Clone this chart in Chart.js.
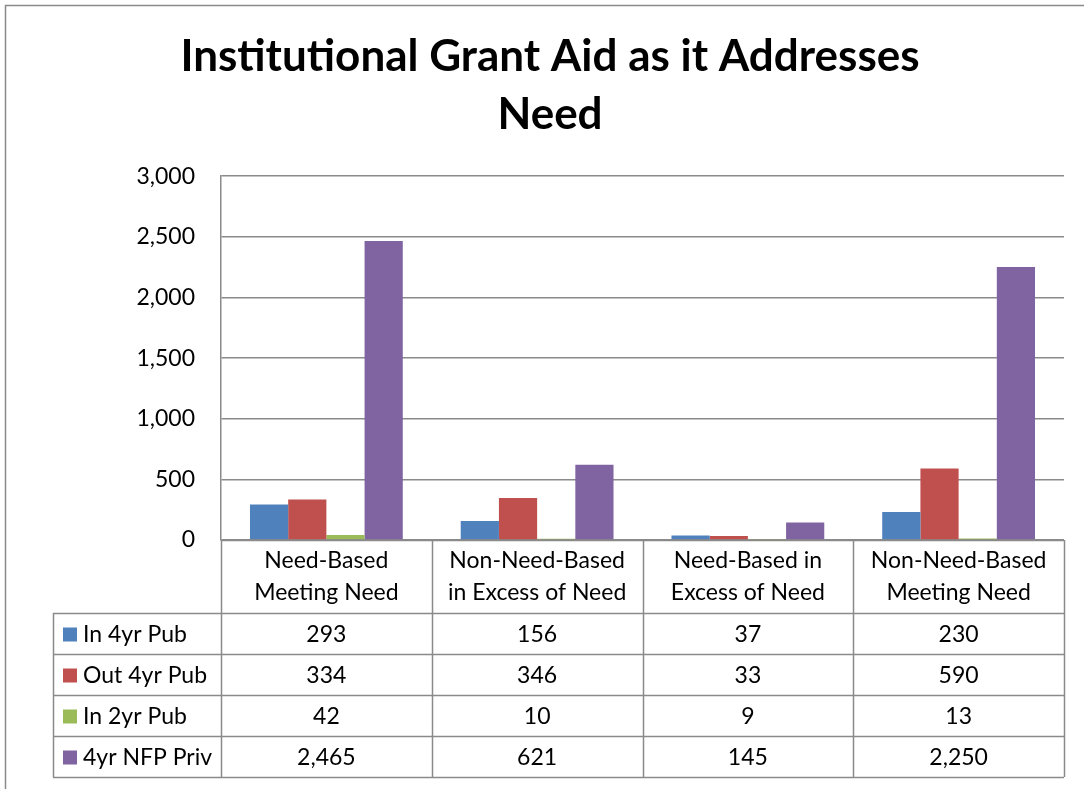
<!doctype html>
<html lang="en">
<head>
<meta charset="utf-8">
<title>Institutional Grant Aid as it Addresses Need</title>
<script src="https://cdn.jsdelivr.net/npm/chart.js"></script>
<style>
  html, body { margin: 0; padding: 0; background: #fff; }
</style>
</head>
<body>
<canvas id="grantChart" width="1084" height="789"></canvas>

<script>
// chart data
const categories = [
  ["Need-Based", "Meeting Need"],
  ["Non-Need-Based", "in Excess of Need"],
  ["Need-Based in", "Excess of Need"],
  ["Non-Need-Based", "Meeting Need"]
];
const seriesNames = ["In 4yr Pub", "Out 4yr Pub", "In 2yr Pub", "4yr NFP Priv"];
const in4yrPub   = [293, 156, 37, 230];
const out4yrPub  = [334, 346, 33, 590];
const in2yrPub   = [42, 10, 9, 13];
const nfpPriv4yr = [2465, 621, 145, 2250];
const yTickValues = [0, 500, 1000, 1500, 2000, 2500, 3000];

const seriesColors = ['#4F81BD', '#C0504D', '#9BBB59', '#8064A2'];
const seriesValues = [in4yrPub, out4yrPub, in2yrPub, nfpPriv4yr];
const FONT = "Lato, 'Open Sans', sans-serif";
const LINE = '#8a8a8a';
const PAD_LEFT = 36;

function fmt(v) { return v.toLocaleString('en-US'); }

// white background + outer frame (only top/left edge visible in the original)
const framePlugin = {
  id: 'frame',
  beforeDraw(chart) {
    const c = chart.ctx;
    c.save();
    c.fillStyle = '#fff';
    c.fillRect(0, 0, chart.width, chart.height);
    c.strokeStyle = LINE;
    c.lineWidth = 1.5;
    c.strokeRect(5.5, 5.5, chart.width + 20, chart.height + 20);
    c.restore();
  }
};

// data table under the plot, Excel style
const tablePlugin = {
  id: 'dataTable',
  afterDraw(chart) {
    const c = chart.ctx;
    const area = chart.chartArea;
    const x = chart.scales.x;
    const n = categories.length;
    const step = area.width / n;
    const headerH = 73, rowH = 41, tableLeft = 53;
    const top = area.bottom;
    const rowsTop = top + headerH;
    const bottom = rowsTop + rowH * seriesNames.length;

    c.save();
    c.strokeStyle = LINE;
    c.lineWidth = 1.5;
    c.beginPath();
    // vertical column lines
    for (let i = 0; i <= n; i++) {
      const px = Math.round(area.left + i * step) + 0.5;
      c.moveTo(px, top);
      c.lineTo(px, bottom);
    }
    c.moveTo(tableLeft + 0.5, rowsTop);
    c.lineTo(tableLeft + 0.5, bottom);
    // horizontal lines
    c.moveTo(area.left, top + 0.5);
    c.lineTo(area.right, top + 0.5);
    for (let r = 0; r <= seriesNames.length; r++) {
      const py = Math.round(rowsTop + r * rowH) + 0.5;
      c.moveTo(tableLeft, py);
      c.lineTo(area.right, py);
    }
    c.stroke();

    c.fillStyle = '#000';
    c.font = '23px ' + FONT;
    c.textAlign = 'center';
    c.textBaseline = 'middle';
    // category headers
    categories.forEach((lines, i) => {
      const cx = x.getPixelForValue(i);
      lines.forEach((t, k) => c.fillText(t, cx, top + 21 + k * 32));
    });
    // series rows
    seriesNames.forEach((name, r) => {
      const cy = rowsTop + r * rowH + rowH / 2 + 1;
      c.fillStyle = seriesColors[r];
      c.fillRect(tableLeft + 10, cy - 7, 14, 14);
      c.fillStyle = '#000';
      c.textAlign = 'left';
      c.fillText(name, tableLeft + 30, cy);
      c.textAlign = 'center';
      seriesValues[r].forEach((v, i) => c.fillText(fmt(v), x.getPixelForValue(i), cy));
    });
    c.restore();
  }
};

new Chart(document.getElementById('grantChart'), {
  type: 'bar',
  data: {
    labels: categories,
    datasets: seriesNames.map((name, i) => ({
      label: name,
      data: seriesValues[i],
      backgroundColor: seriesColors[i],
      borderWidth: 0,
      categoryPercentage: 0.725,
      barPercentage: 1.0
    }))
  },
  options: {
    responsive: false,
    animation: false,
    layout: { padding: { left: PAD_LEFT, right: 20, top: 0, bottom: 249 } },
    plugins: {
      legend: { display: false },
      tooltip: { enabled: false },
      title: {
        display: true,
        text: ['Institutional Grant Aid as it Addresses', 'Need'],
        color: '#000',
        font: { family: FONT, size: 44, weight: 'bold', lineHeight: 1.32 },
        padding: { top: 28, bottom: 32 }
      }
    },
    scales: {
      x: { display: false },
      y: {
        min: 0,
        max: 3000,
        afterBuildTicks(scale) { scale.ticks = yTickValues.map(v => ({ value: v })); },
        afterFit(scale) { scale.width = 221 - PAD_LEFT; },
        ticks: {
          color: '#000',
          font: { family: FONT, size: 23 },
          padding: 26,
          callback: v => fmt(v)
        },
        grid: { color: LINE, lineWidth: 1.5, drawTicks: false },
        border: { color: LINE, width: 1.5 }
      }
    }
  },
  plugins: [framePlugin, tablePlugin]
});
</script>
</body>
</html>
